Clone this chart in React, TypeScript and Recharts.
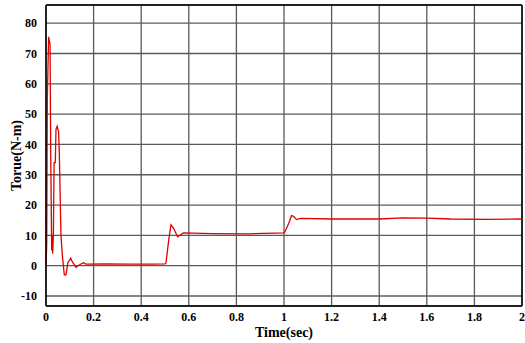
import { LineChart, Line, XAxis, YAxis, CartesianGrid, ReferenceLine } from 'recharts'

// simulated torque response
const timeSec = [
  0, 0.003, 0.0055, 0.011, 0.017, 0.02, 0.024, 0.025, 0.028, 0.031, 0.034, 0.039, 0.042,
  0.047, 0.053, 0.056, 0.06, 0.063, 0.068, 0.073, 0.077, 0.084, 0.088, 0.092, 0.104, 0.109,
  0.126, 0.134, 0.157, 0.168, 0.25, 0.35, 0.45, 0.5, 0.504, 0.515, 0.525, 0.535, 0.553,
  0.577, 0.7, 0.85, 1.0, 1.004, 1.02, 1.032, 1.04, 1.053, 1.07, 1.2, 1.4, 1.5, 1.6, 1.7, 1.85, 2,
]
const torque = [
  0, 7, 55, 75.5, 73, 35, 5, 10, 4, 10, 34, 34, 45,
  46, 44, 37, 21, 10, 4, 0, -3, -3, -1, 1, 2.5, 1.5,
  -0.5, 0, 1, 0.5, 0.6, 0.5, 0.5, 0.6, 0.9, 8, 13.5, 12.5, 9.5,
  10.8, 10.6, 10.5, 10.8, 11.2, 14, 16.5, 16.3, 15.2, 15.6, 15.4, 15.4, 15.8, 15.7, 15.4, 15.3, 15.4,
]
const xTicks = [0, 0.2, 0.4, 0.6, 0.8, 1, 1.2, 1.4, 1.6, 1.8, 2]
const yTicks = [-10, 0, 10, 20, 30, 40, 50, 60, 70, 80]

const data = timeSec.map((t, i) => ({ t, v: torque[i] }))

const font = '"Liberation Serif", "Times New Roman", serif'
const tickStyle = { fontSize: 12, fontWeight: 700, fill: '#000', fontFamily: font }
const labelStyle = { fontSize: 14, fontWeight: 700, fill: '#000', fontFamily: font, textAnchor: 'middle' as const }

export default function App() {
  return (
    <div style={{ position: 'absolute', left: 0, top: 0, background: '#fff' }}>
      <LineChart width={525} height={343} data={data} margin={{ top: 5, right: 3, bottom: 0, left: 0 }}>
        <CartesianGrid stroke="#5a5a5a" strokeWidth={1.3} />
        <XAxis
          dataKey="t"
          type="number"
          domain={[0, 2]}
          ticks={xTicks}
          height={37}
          tickLine={false}
          axisLine={{ stroke: '#000', strokeWidth: 1.5 }}
          tick={tickStyle}
          tickMargin={0}
          label={{ value: 'Time(sec)', position: 'insideBottom', offset: 6, style: labelStyle }}
        />
        <YAxis
          type="number"
          domain={[-13.3, 86]}
          ticks={yTicks}
          width={46}
          tickLine={false}
          axisLine={{ stroke: '#000', strokeWidth: 1.5 }}
          tick={tickStyle}
          tickMargin={3}
          label={{ value: 'Torue(N-m)', angle: -90, position: 'insideLeft', offset: 16, style: labelStyle }}
        />
        <ReferenceLine y={86} stroke="#000" strokeWidth={1.5} />
        <ReferenceLine x={2} stroke="#000" strokeWidth={1.5} />
        <Line
          dataKey="v"
          type="linear"
          stroke="#e00000"
          strokeWidth={1.3}
          dot={false}
          isAnimationActive={false}
        />
      </LineChart>
    </div>
  )
}
